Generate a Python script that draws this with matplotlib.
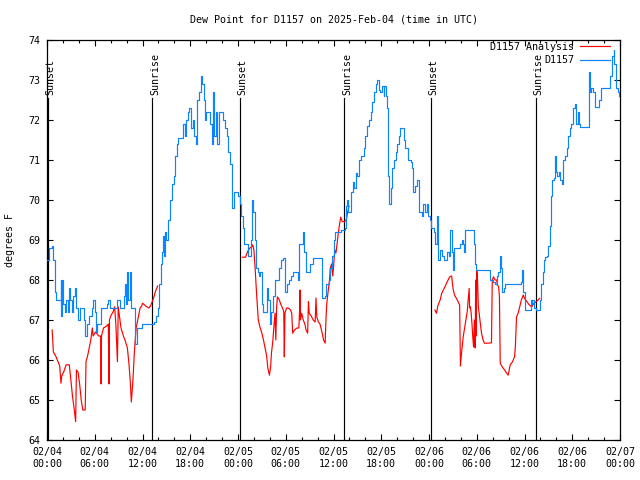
import matplotlib
matplotlib.use("Agg")
import matplotlib.pyplot as plt
from matplotlib.ticker import MultipleLocator, FixedLocator, FixedFormatter
import numpy as np

plt.rcParams['font.family'] = ['DejaVu Sans Mono']

title = "Dew Point for D1157 on 2025-Feb-04 (time in UTC)"
ylabel = "degrees F"

# hours since 2025-02-04 00:00 UTC
blue_h = [0.0,0.3,0.6,0.8,1.0,1.1,1.5,1.7,1.8,1.9,2.0,2.2,2.4,2.6,2.8,2.9,3.1,3.3,3.5,3.7,3.9,4.1,4.4,4.6,4.8,5.0,5.3,5.6,5.8,6.0,
          6.1,6.3,6.5,6.8,7.2,7.5,7.7,7.9,8.2,8.6,8.8,9.0,9.2,9.5,9.7,9.8,9.9,10.0,10.2,10.4,10.5,10.8,11.0,11.1,11.3,11.6,11.9,12.5,13.1,13.4,
          13.7,13.9,14.1,14.3,14.5,14.6,14.7,14.8,15.0,15.2,15.5,15.7,15.9,16.1,16.3,16.5,16.9,17.1,17.3,17.5,17.7,17.9,18.1,18.3,18.5,18.7,18.9,19.1,19.3,19.5,
          19.7,19.8,20.0,20.3,20.5,20.7,20.8,21.0,21.2,21.4,21.6,21.9,22.1,22.4,22.6,22.8,23.0,23.2,23.3,23.5,23.8,24.0,24.2,24.4,24.6,24.8,25.0,25.2,25.4,25.6,
          25.7,25.9,26.1,26.3,26.5,26.6,26.8,27.0,27.2,27.5,27.7,27.8,28.0,28.2,28.4,28.6,28.8,29.1,29.4,29.7,29.9,30.1,30.4,30.7,30.9,31.5,31.6,31.7,32.0,32.2,
          32.3,32.5,32.9,33.1,33.4,34.5,34.6,34.9,35.1,35.4,35.6,35.8,36.0,36.2,36.6,37.0,37.4,37.6,37.7,37.8,38.0,38.2,38.4,38.6,38.8,39.0,39.2,39.5,39.8,40.0,
          40.2,40.5,40.7,40.9,41.1,41.3,41.5,41.7,41.9,42.1,42.3,42.4,42.6,42.7,42.8,42.9,43.0,43.2,43.4,43.6,43.8,44.0,44.2,44.4,44.6,44.8,45.0,45.3,45.7,45.9,
          46.0,46.2,46.5,46.7,46.8,47.1,47.3,47.5,47.7,47.9,48.1,48.3,48.6,48.8,49.0,49.1,49.4,49.6,49.9,50.2,50.5,50.7,50.9,51.0,51.2,51.5,51.9,52.1,52.3,52.4,
          52.5,53.5,53.6,53.8,53.9,55.5,55.7,56.0,56.3,56.5,56.7,56.9,57.1,57.2,57.4,57.6,59.5,59.7,59.8,60.0,60.5,60.8,60.9,61.0,61.2,61.4,61.9,62.0,62.1,62.3,
          62.4,62.6,62.8,63.0,63.2,63.3,63.5,63.7,63.8,63.9,64.1,64.3,64.5,64.7,64.9,65.1,65.3,65.5,65.7,65.9,66.1,66.3,66.5,66.7,66.9,67.0,68.0,68.1,68.2,68.4,
          68.6,68.8,69.3,69.6,70.5,70.8,71.0,71.2,71.3,71.5,71.7,71.9]
blue_v = [68.5,68.8,68.85,68.5,67.7,67.5,67.5,68.0,67.1,68.0,67.4,67.2,67.5,67.2,67.8,67.5,67.2,67.6,67.8,67.3,67.0,67.3,67.3,67.0,66.6,66.9,67.1,67.3,67.5,67.2,
          66.7,66.9,66.9,67.3,67.3,67.4,67.5,67.3,67.3,67.3,67.5,67.5,67.3,67.3,67.6,67.9,67.4,68.2,67.5,68.2,67.3,67.3,66.8,66.4,66.8,66.8,66.9,66.9,66.9,66.95,
          67.1,67.3,67.9,68.4,68.7,69.1,68.6,69.2,69.0,69.5,70.0,70.4,70.6,71.1,71.4,71.55,71.55,71.9,71.6,72.0,72.2,72.3,71.8,72.0,71.6,71.4,72.5,72.7,73.1,72.9,
          72.5,72.0,72.2,72.2,71.9,71.4,72.7,71.6,72.2,71.4,72.2,72.2,72.0,71.8,71.6,71.2,70.9,70.2,69.8,70.2,70.2,70.1,69.9,69.6,69.3,68.9,68.9,68.6,68.6,69.0,
          70.0,69.7,69.0,68.3,68.2,68.1,68.2,67.4,67.2,67.2,67.8,67.5,66.9,67.2,67.6,68.0,68.0,68.3,68.5,68.55,67.7,67.9,68.0,68.1,68.2,68.2,68.0,68.9,68.9,69.2,
          68.7,68.2,68.2,68.4,68.55,68.55,67.55,67.6,67.9,68.0,68.3,68.6,69.0,69.2,69.2,69.25,69.3,69.85,70.0,69.7,69.7,70.2,70.45,70.3,70.67,70.6,71.0,71.1,71.3,71.6,
          71.85,72.0,72.2,72.45,72.7,72.9,73.0,72.75,72.7,72.85,72.6,72.85,72.6,72.3,71.6,70.6,69.9,70.3,70.8,71.0,71.2,71.4,71.6,71.8,71.8,71.5,71.3,71.0,70.95,70.8,
          70.2,70.35,70.5,70.1,69.7,69.6,69.9,69.7,69.9,69.6,69.5,69.3,69.2,68.9,69.6,68.5,68.75,68.6,68.5,68.7,68.6,69.25,68.7,68.25,68.8,68.8,68.9,69.0,68.9,68.7,
          69.25,69.25,68.9,68.4,68.25,68.25,68.0,67.95,67.9,68.1,68.2,68.6,68.3,67.7,67.8,67.9,67.95,68.25,67.7,67.25,67.25,67.5,67.4,67.5,67.3,67.25,67.25,67.5,67.9,68.2,
          68.5,68.58,68.6,68.85,69.35,70.1,70.5,70.55,71.1,70.7,70.6,70.7,70.5,70.4,71.0,71.1,71.3,71.6,71.8,71.9,72.3,72.4,71.9,72.2,71.9,71.83,71.83,73.2,72.7,72.8,
          72.7,72.33,72.5,72.8,72.8,73.1,73.6,73.75,73.4,72.8,72.7,72.6]

red1_h = [0.65,0.8,1.1,1.4,1.6,1.75,1.85,2.1,2.4,2.8,3.0,3.2,3.4,3.6,3.7,3.9,4.1,4.3,4.5,4.8,4.9,5.1,5.3,5.5,5.7,5.8,6.1,6.5,6.75,6.8,
          6.85,7.1,7.5,7.7,7.8,7.85,8.0,8.3,8.5,8.65,8.85,8.95,9.1,9.3,9.6,9.8,10.1,10.3,10.45,10.6,10.8,10.95,11.05,11.2,11.4,11.7,11.9,12.0,12.4,12.8,
          13.0,13.2,13.4,13.6,13.9]
red1_v = [66.75,66.2,66.1,65.95,65.85,65.42,65.6,65.7,65.88,65.88,65.5,65.1,64.8,64.46,65.75,65.7,65.4,65.0,64.75,64.75,65.96,66.1,66.3,66.5,66.8,66.6,66.7,66.6,66.6,65.4,
          66.6,66.8,66.85,66.9,65.4,67.0,67.1,67.2,67.33,66.9,65.96,67.33,67.1,66.8,66.6,66.5,66.3,65.9,65.5,64.95,65.5,66.1,66.4,66.8,67.0,67.3,67.35,67.42,67.35,67.3,
          67.35,67.45,67.55,67.7,67.85]

red2_h = [24.55,24.95,25.2,25.5,25.72,25.85,26.0,26.15,26.35,26.55,26.75,27.0,27.2,27.4,27.6,27.75,27.95,28.1,28.2,28.35,28.5,28.65,28.75,28.85,28.95,29.2,29.4,29.6,29.75,29.82,
          29.9,30.1,30.4,30.6,30.75,30.87,31.1,31.4,31.65,31.75,31.8,31.85,32.0,32.2,32.4,32.55,32.75,32.85,32.95,33.2,33.45,33.7,33.8,33.9,34.1,34.3,34.55,34.75,34.95,35.05,
          35.15,35.3,35.5,35.6,35.75,35.9,36.0,36.15,36.3,36.45,36.6,36.75,36.9,37.1,37.4,37.6,37.75,37.95]
red2_v = [68.57,68.57,68.71,68.8,68.83,68.88,68.75,68.3,67.6,67.0,66.83,66.67,66.5,66.3,66.1,65.8,65.62,65.83,66.17,66.42,66.8,67.17,66.5,67.3,67.58,67.5,67.38,67.3,67.21,66.08,
          67.17,67.3,67.29,67.25,67.17,66.67,66.75,66.8,66.8,67.3,67.75,67.0,67.17,67.0,66.9,66.75,66.67,67.46,67.17,67.1,67.0,66.95,67.55,67.08,66.95,66.9,66.7,66.5,66.42,67.0,
          67.4,67.67,68.0,68.3,68.4,68.1,68.3,68.75,68.67,68.9,69.17,69.38,69.57,69.46,69.46,69.5,69.67,69.85]

red3_h = [48.75,48.85,48.95,49.1,49.4,49.6,49.8,50.0,50.2,50.4,50.6,50.85,50.95,51.05,51.25,51.45,51.65,51.85,51.95,52.05,52.3,52.5,52.7,52.8,52.9,53.05,53.1,53.2,53.3,53.4,
          53.5,53.6,53.7,53.8,53.87,53.93,54.0,54.1,54.2,54.3,54.4,54.5,54.6,54.7,54.8,54.96,55.4,55.85,55.95,56.1,56.3,56.5,56.6,56.75,56.85,56.95,57.2,57.5,57.75,57.95,
          58.2,58.5,58.75,58.85,59.0,59.2,59.4,59.6,59.85,60.0,60.3,60.6,60.9,61.2,61.5,61.9]
red3_v = [67.25,67.2,67.17,67.35,67.5,67.67,67.75,67.83,67.92,68.0,68.08,68.1,67.9,67.75,67.6,67.54,67.46,67.375,65.85,66.1,66.58,66.83,67.08,67.2,67.46,67.79,67.3,67.33,67.17,66.9,
          66.58,66.33,67.0,66.3,68.0,66.6,68.25,68.0,67.33,67.17,67.0,66.83,66.67,66.58,66.5,66.42,66.42,66.43,68.0,68.08,68.0,68.0,67.875,67.83,67.58,65.92,65.83,65.75,65.67,65.62,
          65.875,65.96,66.08,66.33,67.08,67.17,67.33,67.5,67.625,67.54,67.46,67.375,67.33,67.42,67.46,67.54]

sun_events = ["Sunset", "Sunrise", "Sunset", "Sunrise", "Sunset", "Sunrise"]
sun_hours = [0.13, 13.25, 24.2, 37.38, 48.25, 61.45]

xtick_hours = [0, 6, 12, 18, 24, 30, 36, 42, 48, 54, 60, 66, 72]
xtick_labels = ["02/04\n00:00", "02/04\n06:00", "02/04\n12:00", "02/04\n18:00",
                "02/05\n00:00", "02/05\n06:00", "02/05\n12:00", "02/05\n18:00",
                "02/06\n00:00", "02/06\n06:00", "02/06\n12:00", "02/06\n18:00",
                "02/07\n00:00"]

fs = 7.2
fig = plt.figure(figsize=(6.4, 4.8), dpi=100)
ax = fig.add_axes([47/640, 40/480, 573/640, 400/480])

red = "#ff0000"
blue = "#0a84ff"
lw = 0.85

for i, (h, v) in enumerate([(red1_h, red1_v), (red2_h, red2_v), (red3_h, red3_v)]):
    ax.plot(h, v, color=red, lw=lw, label="D1157 Analysis" if i == 0 else None, zorder=3)
ax.plot(blue_h, blue_v, color=blue, lw=lw, drawstyle="steps-post", label="D1157", zorder=4)

for name, h in zip(sun_events, sun_hours):
    ax.plot([h, h], [64, 72.55], color="black", lw=0.85, zorder=2)
    ax.text(h + 0.35, 72.62, name, rotation=90, ha="center", va="bottom", fontsize=fs, zorder=5)

ax.set_xlim(0, 72)
ax.set_ylim(64, 74)
ax.xaxis.set_major_locator(FixedLocator(xtick_hours))
ax.xaxis.set_major_formatter(FixedFormatter(xtick_labels))
ax.xaxis.set_minor_locator(MultipleLocator(2))
ax.yaxis.set_major_locator(MultipleLocator(1))

ax.tick_params(which="both", direction="in", top=True, right=True, labelsize=fs, width=0.8, color="black")
ax.tick_params(which="major", length=4.5, pad=5)
ax.tick_params(which="minor", length=2.5)
for s in ax.spines.values():
    s.set_linewidth(0.9)

fig.text(333.5/640, 1 - 19/480, title, ha="center", va="center", fontsize=fs)
fig.text(10/640, 0.5, ylabel, rotation=90, ha="center", va="center", fontsize=fs)

leg = ax.legend(loc="upper right", bbox_to_anchor=(0.9825, 0.995), frameon=False,
                markerfirst=False, fontsize=fs, borderpad=0, borderaxespad=0,
                handlelength=3.0, handletextpad=0.6, labelspacing=0.35)
leg.set_zorder(6)

fig.savefig("out.png", dpi=100)
